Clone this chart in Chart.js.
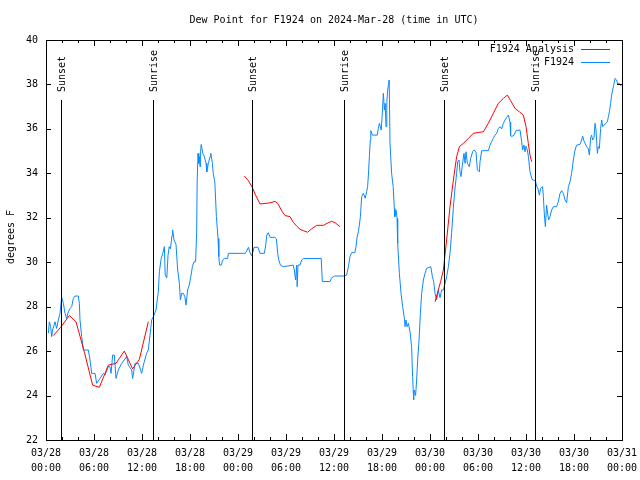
<!DOCTYPE html>
<html>
<head>
<meta charset="utf-8">
<script src="https://cdn.jsdelivr.net/npm/chart.js@4.4.1/dist/chart.umd.min.js"></script>
<style>
  html, body { margin: 0; padding: 0; background: #fff; }
  #wrap { width: 640px; height: 480px; }
</style>
</head>
<body>
<div id="wrap"><canvas id="dew" width="640" height="480"></canvas></div>
<script>
// hours since 03/28 00:00 UTC
const analysisHours = [
  0.92, 1.83, 2.92, 3.75, 4.8, 5.83, 6.67, 7.79, 8.75, 9.79, 10.83, 11.67, 12.79, null,
  24.79, 25.29, 25.79, 26.2, 26.75, 27.38, 28.0, 28.63, 28.96, 29.54, 29.88, 30.5, 30.9,
  31.33, 31.75, 32.17, 32.7, 33.2, 33.83, 34.67, 35.29, 35.7, 36.13, 36.75, null,
  48.63, 49.04, 49.33, 49.67, 50.08, 50.5, 50.92, 51.33, 51.67, 52.17, 52.8, 53.42, 54.04,
  54.67, 55.29, 55.92, 56.54, 57.17, 57.67, 58.08, 58.63, 59.17, 59.67, 60.0, 60.29, 60.5, 60.7
];
const analysisValues = [
  26.7, 27.07, 27.6, 27.32, 25.95, 24.47, 24.37, 25.37, 25.45, 26.0, 25.2, 25.63, 27.32, null,
  33.88, 33.67, 33.37, 33.02, 32.62, 32.65, 32.67, 32.74, 32.65, 32.27, 32.1, 32.05, 31.8,
  31.63, 31.48, 31.42, 31.35, 31.5, 31.66, 31.66, 31.78, 31.84, 31.78, 31.6, null,
  28.22, 28.75, 29.13, 29.65, 31.0, 32.5, 33.7, 34.75, 35.2, 35.35, 35.57, 35.8, 35.84,
  35.87, 36.25, 36.7, 37.15, 37.37, 37.52, 37.27, 36.92, 36.77, 36.62, 36.1, 35.35, 34.82, 34.52
];

const obsHours = [
  0.29, 0.42, 0.58, 0.71, 0.83, 1.13, 1.33, 1.54, 1.75, 1.96, 2.17, 2.38, 2.58, 2.79, 3.0,
  3.21, 3.42, 3.63, 4.04, 4.17, 4.25, 4.46, 4.67, 5.29, 5.5, 5.71, 6.13, 6.33, 6.75, 7.17,
  7.38, 7.79, 8.0, 8.13, 8.33, 8.54, 8.75, 9.04, 9.46, 10.08, 10.29, 10.71, 10.83, 11.13,
  11.54, 11.96, 12.17, 12.58, 12.79, 13.21, 13.42, 13.75, 14.04, 14.17, 14.4, 14.6, 14.8,
  14.9, 15.1, 15.25, 15.4, 15.55, 15.75, 15.83, 16.0, 16.25, 16.46, 16.67, 16.8, 16.96,
  17.17, 17.35, 17.5, 17.7, 17.9, 18.1, 18.3, 18.5, 18.7, 18.83, 18.9, 19.0, 19.1, 19.17,
  19.25, 19.33, 19.4, 19.6, 19.8, 20.0, 20.1, 20.3, 20.5, 20.6, 20.8, 20.9, 21.1, 21.3,
  21.5, 21.6, 21.7, 21.9, 22.1, 22.3, 22.7, 22.8, 24.4, 24.66, 24.9, 25.08, 25.3, 25.5,
  25.7, 25.9, 26.0, 26.5, 26.75, 27.3, 27.46, 27.6, 27.79, 28.0, 28.6, 28.8, 28.96, 29.1,
  29.3, 29.66, 30.9, 31.04, 31.2, 31.33, 31.4, 31.5, 31.75, 31.96, 32.17, 34.4, 34.54,
  35.5, 35.7, 36.1, 37.3, 37.58, 37.8, 38.0, 38.2, 38.6, 38.75, 38.9, 39.04, 39.17, 39.3,
  39.46, 39.67, 39.9, 40.08, 40.2, 40.3, 40.42, 40.54, 40.6, 40.8, 41.4, 41.54, 41.67,
  41.9, 42.0, 42.17, 42.3, 42.4, 42.5, 42.6, 42.7, 42.83, 42.9, 43.0, 43.2, 43.4, 43.54,
  43.6, 43.75, 43.88, 43.96, 44.17, 44.38, 44.58, 44.8, 44.88, 45.0, 45.13, 45.3, 45.5,
  45.7, 45.83, 45.96, 46.04, 46.2, 46.33, 46.46, 46.63, 46.8, 46.96, 47.17, 47.38, 47.58,
  47.88, 48.1, 48.3, 48.46, 48.63, 48.83, 49.04, 49.25, 49.46, 49.67, 49.88, 50.08, 50.3,
  50.5, 50.7, 50.9, 51.1, 51.33, 51.46, 51.63, 51.75, 51.88, 52.04, 52.25, 52.38, 52.5,
  52.67, 52.92, 53.08, 53.33, 53.5, 53.75, 53.92, 54.17, 54.25, 54.46, 55.3, 55.5, 55.7,
  55.9, 56.13, 56.33, 56.54, 56.75, 56.96, 57.17, 57.38, 57.58, 57.8, 58.0, 58.08, 58.2,
  58.5, 58.75, 59.25, 59.46, 59.58, 59.75, 59.88, 60.0, 60.17, 60.3, 60.5, 60.75, 60.9,
  61.17, 61.33, 61.54, 61.67, 61.83, 62.08, 62.17, 62.3, 62.42, 62.58, 62.7, 62.83, 63.0,
  63.2, 63.42, 63.83, 64.04, 64.25, 64.46, 64.67, 64.88, 65.08, 65.3, 65.5, 65.7, 65.92,
  66.13, 66.33, 66.75, 66.96, 67.08, 67.25, 67.58, 67.8, 67.92, 68.08, 68.2, 68.33, 68.5,
  68.63, 68.75, 68.92, 69.04, 69.17, 69.33, 69.46, 69.58, 69.75, 70.0, 70.17, 70.3, 70.42,
  70.58, 70.7, 70.92, 71.13, 71.33, 71.46, 71.67, 71.88
];
const obsValues = [
  26.8, 27.32, 27.1, 26.65, 26.95, 27.32, 27.02, 27.4, 27.7, 28.42, 28.15, 27.7, 27.47, 27.77, 27.92,
  28.0, 28.37, 28.48, 28.48, 28.15, 27.4, 26.65, 26.05, 26.05, 25.6, 25.0, 25.0, 24.55, 24.77, 25.0,
  24.92, 25.3, 25.3, 25.0, 25.82, 25.82, 24.77, 25.15, 25.45, 25.75, 25.37, 25.15, 24.77, 25.45,
  25.45, 25.0, 25.37, 25.9, 26.05, 27.4, 27.55, 27.85, 28.67, 29.57, 30.17, 30.4, 30.7,
  29.43, 29.3, 30.3, 30.7, 30.6, 31.2, 31.45, 31.0, 30.8, 29.65, 29.05, 28.3, 28.6,
  28.6, 28.45, 28.07, 28.75, 28.97, 29.35, 29.8, 30.02, 30.02, 31.3, 33.7, 34.9, 34.45, 34.75,
  34.3, 35.0, 35.3, 34.9, 34.75, 34.45, 34.07, 34.45, 34.75, 34.9, 34.45, 34.0, 33.62, 32.05,
  31.07, 30.25, 29.87, 29.87, 30.1, 30.17, 30.17, 30.4, 30.4, 30.4, 30.4, 30.5, 30.67, 30.43,
  30.3, 30.5, 30.67, 30.67, 30.4, 30.4, 30.77, 31.22, 31.33, 31.12, 31.12, 31.05, 30.4, 30.1,
  29.87, 29.8, 29.87, 29.65, 29.2, 29.87, 28.9, 29.87, 29.87, 30.1, 30.17, 30.17, 29.13,
  29.13, 29.3, 29.38, 29.38, 29.42, 29.8, 30.25, 30.43, 30.43, 30.7, 31.15, 31.37, 31.67, 32.05,
  32.95, 33.1, 32.88, 33.17, 33.4, 33.92, 34.75, 35.5, 35.92, 35.72, 35.72, 36.02, 36.25,
  35.95, 36.47, 37.6, 36.85, 37.15, 36.1, 37.15, 37.7, 38.05, 38.2, 35.35, 34.0, 33.4, 32.42,
  32.05, 32.35, 31.97, 30.85, 29.5, 28.6, 28.0, 27.47, 27.1, 27.4, 27.1, 27.25, 26.87,
  26.2, 24.85, 23.8, 24.25, 24.0, 24.7, 25.6, 26.5, 27.7, 28.6, 29.2, 29.5, 29.72,
  29.77, 29.8, 29.35, 29.13, 28.6, 28.3, 28.75, 28.4, 28.75, 28.75, 29.05, 29.35, 29.8,
  30.4, 31.3, 32.35, 33.25, 34.0, 34.52, 34.6, 34.07, 33.85, 34.37, 34.9, 34.45, 34.97,
  34.45, 34.3, 34.67, 34.97, 35.05, 34.97, 34.15, 34.07, 34.52, 35.02, 35.02, 35.27, 35.42,
  35.57, 35.72, 35.8, 36.02, 36.1, 36.0, 36.25, 36.4, 36.52, 36.62, 36.3, 35.68, 35.65,
  35.72, 35.92, 35.95, 35.42, 35.05, 35.27, 34.97, 35.22, 35.05, 34.75, 34.07, 33.73, 33.7,
  33.67, 33.43, 33.25, 33.02, 33.33, 33.4, 32.95, 32.12, 31.6, 32.57, 32.2, 31.9, 32.05,
  32.35, 32.5, 32.5, 32.72, 33.1, 33.22, 33.1, 32.8, 32.68, 33.4, 33.62, 34.0, 34.6,
  35.05, 35.27, 35.3, 35.5, 35.68, 35.45, 35.2, 35.1, 34.82, 35.6, 35.72, 35.5, 35.6,
  36.25, 35.95, 34.9, 35.2, 35.12, 36.02, 36.4, 36.1, 36.17, 36.25, 36.32, 36.55, 36.77,
  37.15, 37.52, 37.9, 38.27, 38.2, 38.02, 38.05, 37.93
];

const sunHours = [1.84, 13.41, 25.79, 37.29, 49.69, 61.16];
const sunLabels = ["Sunset", "Sunrise", "Sunset", "Sunrise", "Sunset", "Sunrise"];

const yTicks = [22, 24, 26, 28, 30, 32, 34, 36, 38, 40];
const startDay = 28;

const FAMILY = "'DejaVu Sans Mono', 'Liberation Mono', monospace";
const FONT = "10px " + FAMILY;
const RED = "#ff0000";
const BLUE = "#0a88ff";

function toPoints(xs, ys) {
  return xs.map((x, i) => ({ x: x === null ? NaN : x, y: ys[i] }));
}

function hourLabel(h) {
  const day = startDay + Math.floor(h / 24);
  const hr = h % 24;
  return ["03/" + day, String(hr).padStart(2, "0") + ":00"];
}

// frame, ticks, sun lines, legend, titles
const gnuplotLook = {
  id: "gnuplotLook",
  afterDraw(chart) {
    const { ctx, chartArea: a, scales } = chart;
    const xs = scales.x, ys = scales.y;
    ctx.save();
    ctx.strokeStyle = "#000";
    ctx.lineWidth = 1;

    // sunrise / sunset markers
    ctx.font = FONT;
    ctx.fillStyle = "#000";
    sunHours.forEach((h, i) => {
      const px = Math.round(xs.getPixelForValue(h)) + 0.5;
      ctx.beginPath();
      ctx.moveTo(px, 100);
      ctx.lineTo(px, a.bottom);
      ctx.stroke();
      ctx.save();
      ctx.translate(px + 1, 92);
      ctx.rotate(-Math.PI / 2);
      ctx.textAlign = "left";
      ctx.textBaseline = "middle";
      ctx.fillText(sunLabels[i], 0, 0);
      ctx.restore();
    });

    // border
    ctx.strokeRect(a.left + 0.5, a.top + 0.5, a.right - a.left, a.bottom - a.top);

    // x ticks, major 6h, minor 2h
    ctx.beginPath();
    for (let h = 0; h <= 72; h += 2) {
      const px = Math.round(xs.getPixelForValue(h)) + 0.5;
      const len = h % 6 === 0 ? 6 : 3;
      ctx.moveTo(px, a.bottom);
      ctx.lineTo(px, a.bottom - len);
      ctx.moveTo(px, a.top);
      ctx.lineTo(px, a.top + len);
    }
    // y ticks
    yTicks.forEach(v => {
      const py = Math.round(ys.getPixelForValue(v)) + 0.5;
      ctx.moveTo(a.left, py);
      ctx.lineTo(a.left + 5, py);
      ctx.moveTo(a.right, py);
      ctx.lineTo(a.right - 5, py);
    });
    ctx.stroke();

    // title
    ctx.textAlign = "center";
    ctx.textBaseline = "middle";
    ctx.fillText("Dew Point for F1924 on 2024-Mar-28 (time in UTC)", (a.left + a.right) / 2, 20);

    // y axis title
    ctx.save();
    ctx.translate(11, 237);
    ctx.rotate(-Math.PI / 2);
    ctx.fillText("degrees F", 0, 0);
    ctx.restore();

    // legend
    const rows = [["F1924 Analysis", RED], ["F1924", BLUE]];
    rows.forEach((r, i) => {
      const y = 49 + i * 13;
      ctx.textAlign = "right";
      ctx.fillStyle = "#000";
      ctx.fillText(r[0], 574, y);
      ctx.strokeStyle = r[1];
      ctx.beginPath();
      ctx.moveTo(581, y + 0.5);
      ctx.lineTo(610, y + 0.5);
      ctx.stroke();
    });
    ctx.restore();
  }
};

new Chart(document.getElementById("dew"), {
  type: "line",
  data: {
    datasets: [
      {
        label: "F1924 Analysis",
        data: toPoints(analysisHours, analysisValues),
        borderColor: RED,
        borderWidth: 1,
        pointRadius: 0,
        tension: 0,
        spanGaps: false
      },
      {
        label: "F1924",
        data: toPoints(obsHours, obsValues),
        borderColor: BLUE,
        borderWidth: 1,
        pointRadius: 0,
        tension: 0
      }
    ]
  },
  options: {
    responsive: false,
    animation: false,
    events: [],
    layout: { padding: { top: 40, right: 18, left: 0, bottom: 0 } },
    plugins: { legend: { display: false }, title: { display: false }, tooltip: { enabled: false } },
    scales: {
      x: {
        type: "linear",
        min: 0,
        max: 72,
        grid: { display: false, drawTicks: false },
        border: { display: false },
        afterFit(s) {
          s.height = 40;
          s.paddingLeft = 0;
          s.paddingRight = 0;
        },
        afterBuildTicks(s) {
          s.ticks = [];
          for (let h = 0; h <= 72; h += 6) s.ticks.push({ value: h });
        },
        ticks: {
          autoSkip: false,
          maxRotation: 0,
          padding: 6,
          color: "#000",
          font: { family: FAMILY, size: 10, lineHeight: "15px" },
          callback: v => hourLabel(v)
        }
      },
      y: {
        min: 22,
        max: 40,
        grid: { display: false, drawTicks: false },
        border: { display: false },
        afterFit(s) { s.width = 46; },
        afterBuildTicks(s) { s.ticks = yTicks.map(v => ({ value: v })); },
        ticks: {
          padding: 8,
          color: "#000",
          font: { family: FAMILY, size: 10 }
        }
      }
    }
  },
  plugins: [gnuplotLook]
});
</script>
</body>
</html>
